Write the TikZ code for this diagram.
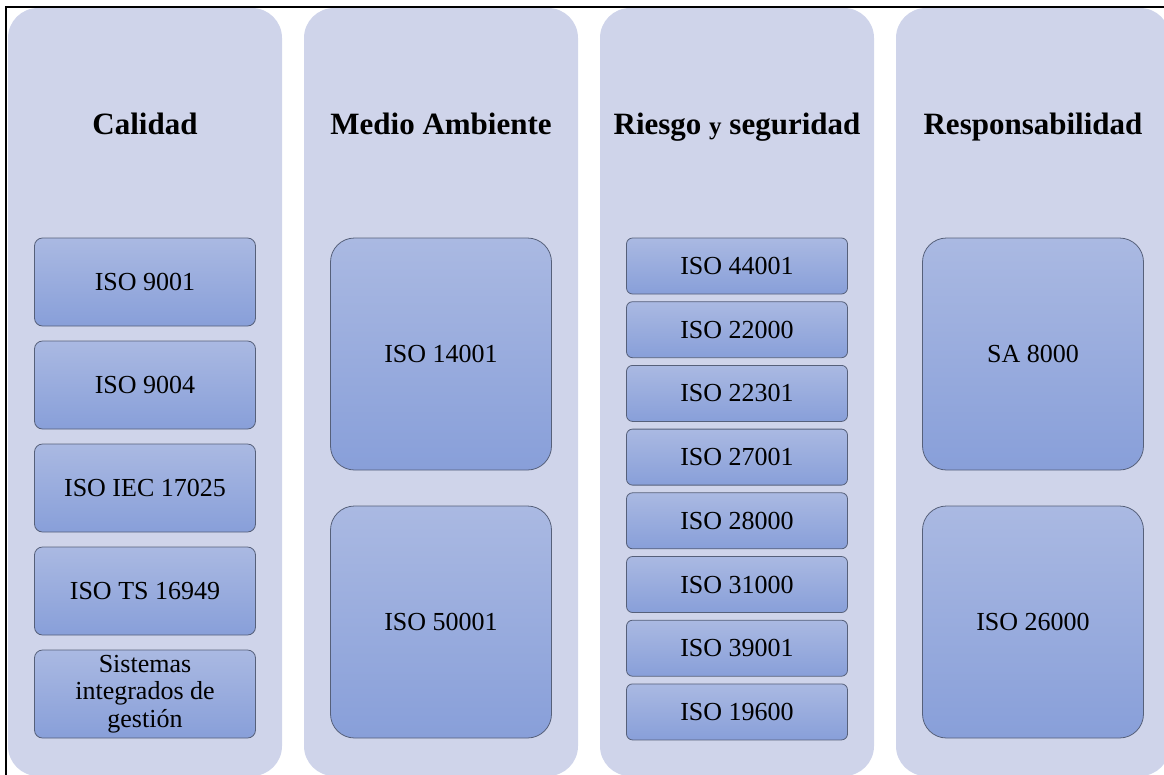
\documentclass[tikz,border=0pt]{standalone}
\usepackage{fontspec}
\setmainfont{Liberation Serif}
\usetikzlibrary{positioning}
\definecolor{panelblue}{HTML}{CFD4EA}
\definecolor{boxtop}{HTML}{AAB9E2}
\definecolor{boxbottom}{HTML}{889FD9}
\definecolor{boxedge}{HTML}{56607A}
\tikzset{
  panel/.style={fill=panelblue, rounded corners=30pt, minimum width=274pt, minimum height=768pt, inner sep=0pt},
  coltitle/.style={anchor=base, font=\fontsize{31}{36}\selectfont\bfseries},
  isobox/.style={draw=boxedge, line width=0.8pt, top color=boxtop, bottom color=boxbottom,
    minimum width=221pt, inner sep=0pt, align=center, font=\fontsize{26}{27.5}\selectfont},
}

\begin{document}
\begin{tikzpicture}[x=1pt,y=-1pt]
    \useasboundingbox (0,0) rectangle (1164,774);
    % columnas
    \node[panel] (calidad) at (145,392) {};
    \node[panel] (ambiente) at (441,392) {};
    \node[panel] (riesgo) at (737,392) {};
    \node[panel] (resp) at (1033,392) {};
    \node[coltitle] (calidad-t) at (145,134) {Calidad};
    \node[coltitle] (ambiente-t) at (441,134) {Medio Ambiente};
    \node[coltitle] (riesgo-t) at (737,134) {Riesgo {\fontsize{25}{30}\selectfont y} seguridad};
    \node[coltitle] (resp-t) at (1033,134) {Responsabilidad};
    % calidad
    \foreach \lbl [count=\i] in {ISO 9001, ISO 9004, ISO IEC 17025, ISO TS 16949}
      \node[isobox, minimum height=88pt, rounded corners=8pt] (cal\i) at (145,{282+(\i-1)*103}) {\lbl};
    \node[isobox, minimum height=88pt, rounded corners=8pt] (cal5) at (145,694) {Sistemas\\integrados de\\gestión};
    % medio ambiente
    \node[isobox, minimum height=232pt, rounded corners=24pt] (amb1) at (441,354) {ISO 14001};
    \node[isobox, minimum height=232pt, rounded corners=24pt] (amb2) at (441,622) {ISO 50001};
    % riesgo y seguridad
    \foreach \lbl [count=\i] in {44001,22000,22301,27001,28000,31000,39001,19600}
      \node[isobox, minimum height=56pt, rounded corners=6pt] (rs\i) at (737,{266+(\i-1)*63.7}) {ISO \lbl};
    % responsabilidad
    \node[isobox, minimum height=232pt, rounded corners=24pt] (res1) at (1033,354) {SA 8000};
    \node[isobox, minimum height=232pt, rounded corners=24pt] (res2) at (1033,622) {ISO 26000};
    \draw[line width=2pt] (6,775) -- (6,7) -- (1164,7);
\end{tikzpicture}
\end{document}
